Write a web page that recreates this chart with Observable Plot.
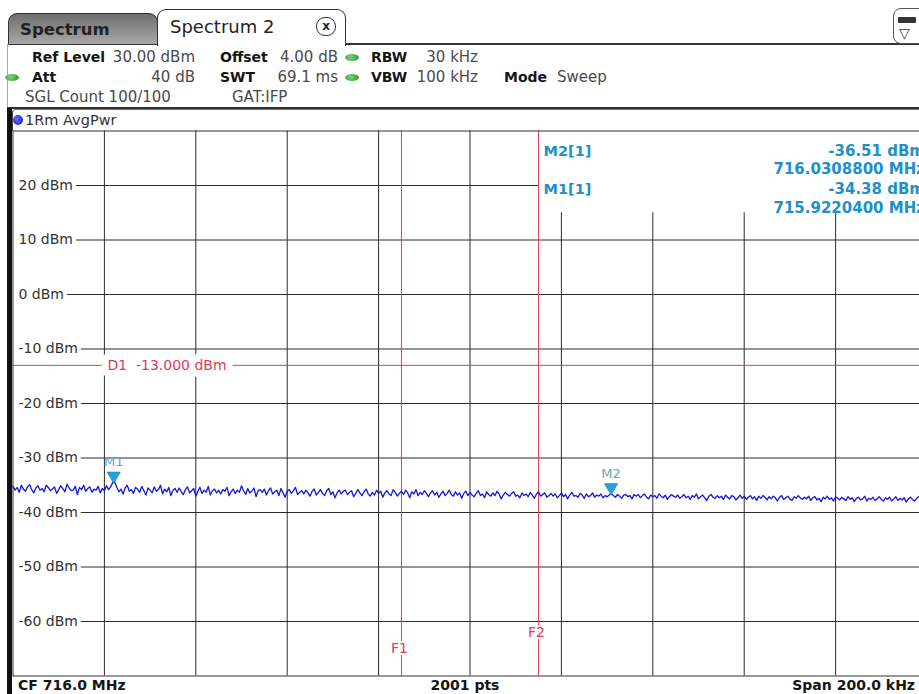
<!DOCTYPE html>
<html><head><meta charset="utf-8">
<script src="https://cdn.jsdelivr.net/npm/d3@7"></script>
<script src="https://cdn.jsdelivr.net/npm/@observablehq/plot@0.6"></script>
<style>
html,body{margin:0;padding:0;width:919px;height:694px;overflow:hidden;background:#fff;font-family:"DejaVu Sans",sans-serif;}
#root{position:relative;width:919px;height:694px;overflow:hidden;}
.t{position:absolute;white-space:nowrap;line-height:1;}
.box{position:absolute;box-sizing:border-box;}
#chart{position:absolute;left:0;top:129px;}
#chart svg{max-width:none;overflow:visible;}
</style></head><body>
<div id="root"></div>
<script>
// ---- data ----
const freqStart = 715.9;   // MHz (CF 716.0 MHz, span 200 kHz)
const freqStop = 716.1;
const refLevel = 30;       // dBm, top of grid
const bottomLevel = -70;   // dBm, bottom of grid
const xGrid = [715.92, 715.94, 715.96, 715.98, 716.0, 716.02, 716.04, 716.06, 716.08];
const yGrid = [20, 10, 0, -10, -20, -30, -40, -50, -60];
const yTickLabels = ["20 dBm", "10 dBm", "0 dBm", "-10 dBm", "-20 dBm", "-30 dBm", "-40 dBm", "-50 dBm", "-60 dBm"];
const displayLines = [{name: "D1", level: -13, text: "D1  -13.000 dBm"}];
const freqLines = [{name: "F1", freq: 715.985, labelLevel: -65}, {name: "F2", freq: 716.015, labelLevel: -62}];
const markers = [{name: "M1", freq: 715.92204, level: -34.38}, {name: "M2", freq: 716.03088, level: -36.51}];
const markerTableLeft = ["M2[1]", "M1[1]"];
const markerTableRight = ["-36.51 dBm", "716.0308800 MHz", "-34.38 dBm", "715.9220400 MHz"];
const traceDbm = [
-35.2,-35.9,-35.4,-36.3,-35.0,-35.7,-36.1,-35.3,-34.9,-35.8,-36.4,-35.5,-35.1,-35.9,-35.6,-36.2,-35.0,-35.4,-36.0,-35.7,
-35.3,-36.5,-35.8,-35.1,-35.6,-36.2,-34.8,-35.5,-36.0,-35.9,-35.2,-36.7,-35.4,-35.8,-35.0,-36.1,-35.6,-35.3,-36.3,-35.7,
-35.9,-35.2,-36.4,-35.6,-36.0,-35.1,-35.8,-35.3,-34.5,-34.38,-35.4,-36.2,-35.7,-36.6,-35.5,-35.0,-36.1,-35.8,-36.5,-35.4,
-35.7,-36.3,-35.2,-36.0,-36.8,-35.5,-35.9,-36.4,-35.3,-36.1,-35.8,-35.0,-36.6,-35.7,-36.2,-35.4,-36.9,-35.9,-35.6,-36.3,
-35.5,-36.2,-36.7,-35.8,-35.3,-36.4,-36.0,-35.6,-37.0,-36.1,-35.4,-36.5,-35.9,-36.3,-35.2,-36.8,-36.0,-35.7,-36.4,-35.9,
-36.6,-35.8,-36.1,-35.4,-36.9,-36.2,-35.7,-36.5,-35.9,-36.3,-35.1,-36.0,-36.7,-35.6,-36.4,-36.1,-35.5,-37.1,-36.0,-35.8,
-36.3,-35.7,-36.8,-36.0,-35.5,-36.6,-36.2,-35.9,-36.9,-35.6,-36.4,-37.2,-36.1,-35.8,-36.5,-36.0,-35.4,-36.7,-36.3,-36.0,
-36.6,-35.9,-36.4,-37.0,-36.1,-35.7,-36.8,-36.3,-35.8,-36.5,-36.9,-36.0,-35.6,-36.7,-36.2,-37.3,-36.4,-35.9,-36.6,-36.1,
-35.9,-36.7,-36.3,-36.0,-37.1,-36.5,-35.8,-36.4,-36.9,-36.2,-35.7,-36.6,-37.0,-36.3,-36.8,-35.9,-36.5,-36.1,-37.2,-36.4,
-36.0,-36.6,-36.9,-35.8,-36.3,-37.0,-36.5,-36.1,-36.7,-35.9,-36.4,-37.3,-36.2,-36.6,-35.8,-36.9,-36.3,-36.7,-36.0,-36.5,
-37.1,-36.4,-36.0,-36.8,-36.3,-37.2,-36.6,-36.1,-36.9,-36.5,-35.9,-36.7,-37.0,-36.2,-36.8,-36.4,-37.4,-36.5,-36.1,-36.9,
-36.3,-36.8,-37.1,-36.5,-36.0,-36.9,-36.6,-37.3,-36.2,-36.7,-37.0,-36.4,-36.9,-36.1,-36.6,-37.5,-36.8,-36.3,-36.7,-37.0,
-36.5,-36.2,-37.0,-36.8,-37.3,-36.4,-36.9,-36.6,-37.1,-36.3,-36.8,-37.4,-36.6,-36.2,-37.0,-36.7,-36.4,-37.2,-36.9,-36.5,
-37.0,-36.6,-37.3,-36.9,-36.4,-37.1,-36.7,-37.5,-36.8,-36.3,-37.0,-36.9,-37.2,-36.5,-36.8,-37.4,-36.6,-37.1,-36.9,-36.4,
-37.2,-36.8,-37.0,-36.6,-37.3,-36.9,-37.1,-36.8,-36.51,-36.9,-37.2,-36.7,-37.0,-37.4,-36.8,-36.7,-37.1,-36.9,-37.5,-36.7,
-37.0,-36.7,-37.3,-36.9,-36.6,-37.2,-37.5,-36.8,-37.1,-36.9,-37.4,-36.6,-37.0,-37.3,-36.8,-37.6,-37.1,-36.7,-37.0,-37.2,
-36.8,-37.4,-37.1,-36.7,-37.3,-37.0,-37.6,-36.9,-37.2,-36.6,-37.5,-37.1,-36.8,-37.3,-37.8,-37.0,-36.7,-37.2,-37.4,-36.9,
-37.3,-37.0,-37.6,-36.8,-37.2,-37.5,-36.9,-37.1,-37.7,-37.3,-36.8,-37.4,-37.0,-37.6,-37.2,-36.9,-37.5,-37.1,-37.8,-37.0,
-37.4,-36.9,-37.2,-37.7,-37.1,-37.5,-37.0,-37.3,-37.9,-37.2,-36.9,-37.6,-37.3,-37.0,-37.5,-37.8,-37.1,-37.4,-36.9,-37.3,
-37.6,-37.2,-37.5,-37.0,-37.8,-37.3,-37.1,-37.7,-37.4,-38.0,-37.2,-37.5,-37.0,-37.6,-37.3,-37.9,-37.1,-37.4,-37.7,-37.2,
-37.5,-37.8,-37.1,-37.6,-37.3,-38.0,-37.4,-37.2,-37.7,-37.5,-37.0,-37.9,-37.4,-37.6,-37.2,-37.8,-37.5,-37.1,-37.6,-37.9,
-37.3,-37.6,-37.2,-37.9,-37.5,-37.1,-37.8,-37.4,-37.7,-37.3,-38.1,-37.5,-37.2,-37.6,-37.9,-37.4,-37.1,-37.7,-37.5,-37.8,
-37.5
];

// sweep points equally spaced across the span
const trace = traceDbm.map((v, i) => ({f: freqStart + i * (freqStop - freqStart) / (traceDbm.length - 1), v}));

const root = document.getElementById("root");
function txt(s, x, cy, o = {}) {
  const size = o.size || 15;
  const d = document.createElement("div");
  d.className = "t";
  d.textContent = s;
  d.style.fontSize = size + "px";
  d.style.fontWeight = o.bold ? "bold" : "normal";
  d.style.color = o.color || (o.bold ? "#151515" : "#4a4a4a");
  d.style.top = (cy - size / 2) + "px";
  if (o.right) { d.style.right = (919 - x) + "px"; } else if (o.center) { d.style.left = x + "px"; d.style.transform = "translateX(-50%)"; } else { d.style.left = x + "px"; }
  root.appendChild(d);
  return d;
}
function box(x, y, w, h, css) {
  const d = document.createElement("div");
  d.className = "box";
  d.style.left = x + "px"; d.style.top = y + "px"; d.style.width = w + "px"; d.style.height = h + "px";
  Object.assign(d.style, css);
  root.appendChild(d);
  return d;
}

// ---- header (tabs) ----
box(345, 43, 574, 2, {background: "#333"});
box(8, 13, 150, 32, {border: "1.5px solid #333", borderRadius: "9px 9px 0 0", background: "linear-gradient(#6e6e6e,#a8a8a8)"});
box(157, 9, 189, 37, {border: "1.5px solid #333", borderBottom: "none", borderRadius: "9px 9px 0 0", background: "#fff"});
txt("Spectrum", 20, 30, {size: 16.5, bold: true, color: "#222"});
txt("Spectrum 2", 170, 27, {size: 18, color: "#222"});
box(316, 17, 20, 19, {border: "1.5px solid #333", borderRadius: "9px", background: "#fff"});
txt("x", 326, 26, {size: 12, bold: true, color: "#222", center: true});
box(893, 8, 40, 36, {border: "1.5px solid #555", borderRadius: "8px", background: "#fff"});
box(898, 17, 18, 6, {background: "#333", borderRadius: "1px"});
txt("▽", 899, 33, {size: 14, color: "#333"});
box(7, 44, 1, 64, {background: "#aaa"});

// ---- settings rows ----
function led(x, y) { box(x, y - 3.5, 14, 7, {borderRadius: "50%", background: "radial-gradient(circle at 40% 40%,#7fd07f,#2e8a2e)"}); }
txt("Ref Level", 32, 57, {size: 14, bold: true});
txt("30.00 dBm", 195, 57, {right: true});
txt("Offset", 220, 57, {size: 14, bold: true});
txt("4.00 dB", 338, 57, {right: true});
led(345, 57);
txt("RBW", 371, 57, {size: 14, bold: true});
txt("30 kHz", 478, 57, {right: true});
led(5, 77);
txt("Att", 32, 77, {size: 14, bold: true});
txt("40 dB", 195, 77, {right: true});
txt("SWT", 220, 77, {size: 14, bold: true});
txt("69.1 ms", 338, 77, {right: true});
led(345, 77);
txt("VBW", 371, 77, {size: 14, bold: true});
txt("100 kHz", 478, 77, {right: true});
txt("Mode", 504, 77, {size: 14, bold: true});
txt("Sweep", 557, 77);
txt("SGL Count 100/100", 25, 97);
txt("GAT:IFP", 232, 97);
box(7, 107, 912, 2, {background: "#333"});

// ---- trace label row ----
box(12, 109, 907, 22, {borderLeft: "1px solid #444", borderTop: "1px solid #777", borderTopLeftRadius: "4px"});
box(13, 115, 10, 10, {borderRadius: "50%", background: "radial-gradient(circle at 40% 40%,#6a6aff,#1010c0)"});
txt("1Rm AvgPwr", 25, 120, {size: 14.5, color: "#333"});
box(7, 108, 4.5, 586, {background: "#111"});

// ---- chart ----
const markerColor = "#2090cc";
const red = "#e23a58";
const chart = Plot.plot({
  width: 919,
  height: 548,
  marginLeft: 12.5,
  marginRight: -7.5,
  marginTop: 1.5,
  marginBottom: 1.5,
  style: {fontFamily: "DejaVu Sans", fontSize: "14px", background: "transparent", overflow: "visible"},
  x: {domain: [freqStart, freqStop], axis: null},
  y: {domain: [bottomLevel, refLevel], axis: null},
  marks: [
    Plot.ruleX(xGrid, {stroke: "#2b2b2b", strokeWidth: 1}),
    Plot.ruleY(yGrid, {stroke: "#2b2b2b", strokeWidth: 1, insetLeft: 5}),
    Plot.rect([{x1: freqLines[1].freq, x2: freqStop, y1: 15, y2: refLevel}], {x1: "x1", x2: "x2", y1: "y1", y2: "y2", fill: "white"}),
    Plot.ruleY(displayLines, {y: "level", stroke: red, strokeWidth: 1}),
    Plot.ruleX(freqLines, {x: "freq", stroke: red, strokeWidth: 1}),
    Plot.line(trace, {x: "f", y: "v", stroke: "#1616dc", strokeWidth: 1.3}),
    Plot.text(yGrid, {x: freqStart, y: d => d, text: (d, i) => yTickLabels[i], textAnchor: "start", dx: 5.5, fill: "#333", fontSize: 14, stroke: "white", strokeWidth: 8}),
    Plot.text(displayLines, {x: xGrid[0], y: "level", text: "text", textAnchor: "start", dx: 3, fill: red, fontSize: 14, stroke: "white", strokeWidth: 14}),
    Plot.text(freqLines, {x: "freq", y: "labelLevel", text: "name", dx: -2, fill: red, fontSize: 14, stroke: "white", strokeWidth: 4}),
    Plot.dot(markers, {x: "freq", y: "level", symbol: "triangle", rotate: 180, r: 5, dy: -6, fill: "#2a9fd8", stroke: "#1c7fb8", strokeWidth: 0.5}),
    Plot.text(markers, {x: "freq", y: "level", text: "name", dy: -20, fill: "#5fa8c8", fontSize: 13}),
    markerTableLeft.map((t, i) => Plot.text([{f: freqLines[1].freq, t}], {x: "f", text: "t", frameAnchor: "top", textAnchor: "start", dx: 5, dy: [14.5, 52.5][i], fill: markerColor, fontSize: 14.5, fontWeight: "bold"})),
    markerTableRight.map((t, i) => Plot.text([t], {text: d => d, frameAnchor: "top-right", textAnchor: "end", dx: -2, dy: [14.5, 32.5, 52.5, 71.5][i], fill: markerColor, fontSize: 15, fontWeight: "bold"})),
    Plot.frame({stroke: "#333", strokeWidth: 1})
  ]
});
const holder = document.createElement("div");
holder.id = "chart";
holder.appendChild(chart);
root.appendChild(holder);

// ---- bottom bar ----
txt("CF 716.0 MHz", 18, 685, {size: 14, bold: true});
txt("2001 pts", 465, 685, {size: 14, bold: true, center: true});
txt("Span 200.0 kHz", 915, 685, {size: 14, bold: true, right: true});
</script>
</body></html>
